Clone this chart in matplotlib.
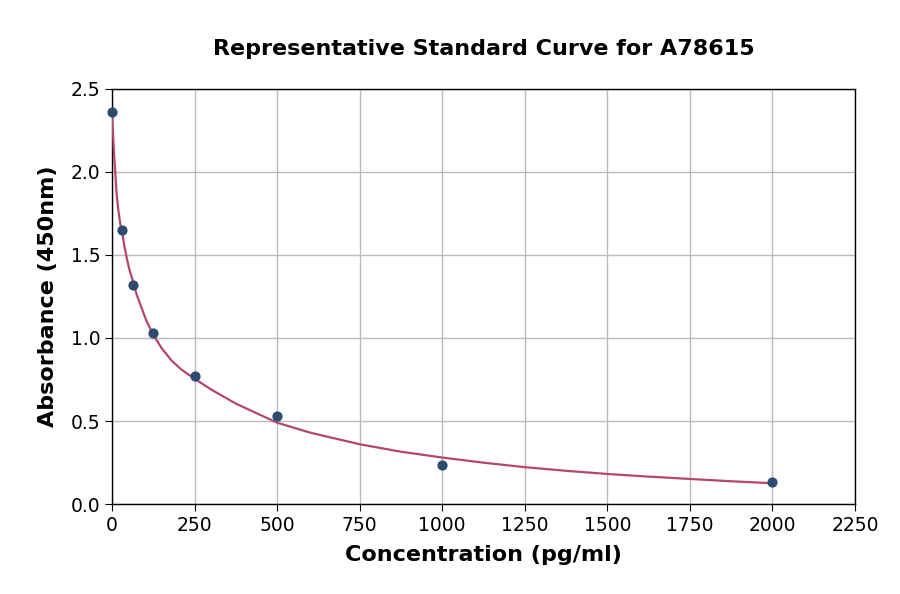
import numpy as np
import matplotlib
matplotlib.use('Agg')
import matplotlib.pyplot as plt

# standard points
conc = [0, 31.25, 62.5, 125, 250, 500, 1000, 2000]
absorb = [2.36, 1.65, 1.32, 1.03, 0.77, 0.53, 0.235, 0.135]

# fitted curve
curve_x = [0, 1, 2, 3, 4, 5, 6, 8, 10, 12, 14, 17, 20, 25, 31.25, 38, 45,
           53, 62.5, 75, 90, 105, 125, 150, 180, 210, 250, 300, 375, 440,
           500, 600, 750, 875, 1000, 1125, 1250, 1375, 1500, 1625, 1750,
           1875, 2000]
curve_y = [2.37, 2.32, 2.28, 2.24, 2.2, 2.16, 2.12, 2.06, 2.0, 1.93, 1.87,
           1.81, 1.76, 1.69, 1.63, 1.55, 1.48, 1.41, 1.35, 1.26, 1.18, 1.1,
           1.02, 0.94, 0.865, 0.81, 0.755, 0.69, 0.605, 0.545, 0.49, 0.43,
           0.36, 0.315, 0.28, 0.249, 0.222, 0.2, 0.181, 0.165, 0.151, 0.137,
           0.125]

xticks = [0, 250, 500, 750, 1000, 1250, 1500, 1750, 2000, 2250]
yticks = [0.0, 0.5, 1.0, 1.5, 2.0, 2.5]


def main():
    fig = plt.figure(figsize=(9, 5.94), dpi=100)
    ax = fig.add_axes([0.1244, 0.1515, 0.8256, 0.6987])

    ax.plot(curve_x, curve_y, color='#b5466d', lw=1.6, zorder=3)
    ax.scatter(conc, absorb, s=40, color='#2d4b70', zorder=4, clip_on=False)

    ax.set_xlim(0, 2250)
    ax.set_ylim(0, 2.5)
    ax.set_xticks(xticks)
    ax.set_yticks(yticks)
    ax.set_yticklabels(['%.1f' % v for v in yticks])
    ax.grid(True, color='#bbbbbb', lw=1.0)
    ax.set_axisbelow(True)
    ax.tick_params(labelsize=13.5, length=5)
    for s in ax.spines.values():
        s.set_linewidth(1.0)

    ax.set_xlabel('Concentration (pg/ml)', fontsize=16, fontweight='bold', labelpad=7)
    ax.set_ylabel('Absorbance (450nm)', fontsize=16, fontweight='bold', labelpad=9)
    fig.text(0.538, 0.917, 'Representative Standard Curve for A78615',
             ha='center', va='center', fontsize=16, fontweight='bold')

    fig.savefig('out.png', dpi=100)


if __name__ == '__main__':
    main()
